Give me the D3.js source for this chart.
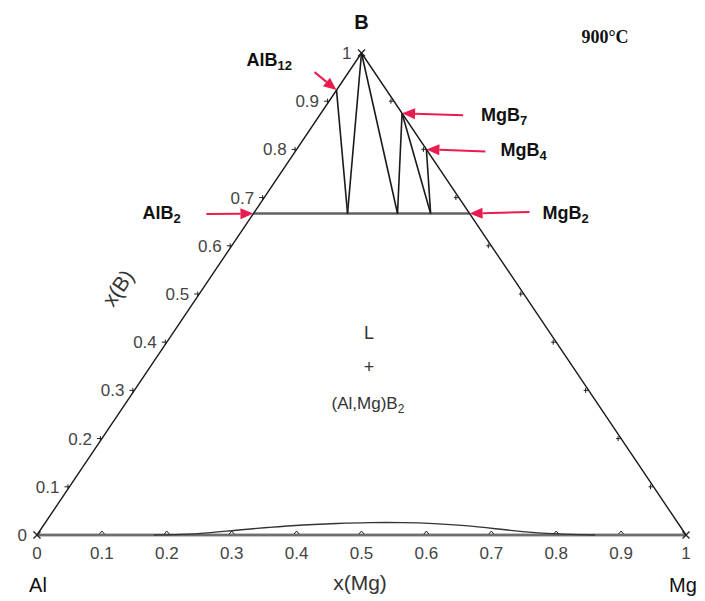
<!DOCTYPE html>
<html>
<head>
<meta charset="utf-8">
<script src="https://cdn.jsdelivr.net/npm/d3@7"></script>
<style>
  body { margin: 0; background: #fff; }
  svg { display: block; }
</style>
</head>
<body>
<svg id="chart" width="705" height="601"></svg>
<script>
// ---------------- data ----------------
const tickValues = [0, 0.1, 0.2, 0.3, 0.4, 0.5, 0.6, 0.7, 0.8, 0.9, 1];
const tickLabels = ["0", "0.1", "0.2", "0.3", "0.4", "0.5", "0.6", "0.7", "0.8", "0.9", "1"];

// compounds: composition (x(Mg), x(B))
const compoundNames = ["AlB12", "MgB7", "MgB4", "AlB2", "MgB2"];
const compoundMain = ["AlB", "MgB", "MgB", "AlB", "MgB"];
const compoundSub = ["12", "7", "4", "2", "2"];
const compoundXMg = [0, 0.125, 0.2, 0, 0.333];
const compoundXB = [0.923, 0.875, 0.8, 0.667, 0.667];

// ends of the tie lines on the (Al,Mg)B2 solid solution line (x(B) = 0.667)
const ssXMg = [0.145, 0.222, 0.273];
const ssXB = [0.667, 0.667, 0.667];

// tie lines: [from, to]  ("B" = pure boron corner, "P1".."P3" = ss points)
const tieLines = [["AlB12", "P1"], ["B", "P1"], ["B", "P2"], ["MgB7", "P2"], ["MgB7", "P3"], ["MgB4", "P3"]];

// liquid curve near the Al-Mg edge
const curveXMg = [0.18, 0.22, 0.26, 0.30, 0.35, 0.40, 0.45, 0.50, 0.55, 0.60, 0.65, 0.70, 0.75, 0.80, 0.86];
const curveXB  = [0.0, 0.001, 0.004, 0.010, 0.016, 0.021, 0.024, 0.026, 0.026, 0.024, 0.020, 0.013, 0.006, 0.002, 0.0];

// ---------------- layout ----------------
const svg = d3.select("#chart");
const xS = d3.scaleLinear().domain([0, 1]).range([37, 686]);
const yS = d3.scaleLinear().domain([0, 1]).range([535, 53]);
const proj = (m, b) => [xS(m + b / 2), yS(b)];

const FONT = "'Liberation Sans', Arial, sans-serif";
const RED = "#ea1c4f";

const pts = {};
compoundNames.forEach((n, i) => pts[n] = proj(compoundXMg[i], compoundXB[i]));
ssXMg.forEach((m, i) => pts["P" + (i + 1)] = proj(m, ssXB[i]));
pts["B"] = proj(0, 1);
pts["Al"] = proj(0, 0);
pts["Mg"] = proj(1, 0);

const line = d3.line();

// baseline (Al-Mg) and the (Al,Mg)B2 line: grey, thicker
svg.append("path").attr("d", line([pts.Al, pts.Mg]))
  .attr("stroke", "#8a8a8a").attr("stroke-width", 3).attr("fill", "none");
svg.append("path").attr("d", line([pts.Al, pts.Mg]))
  .attr("stroke", "#444").attr("stroke-width", 0.8).attr("fill", "none");
svg.append("path").attr("d", line([pts.AlB2, pts.MgB2]))
  .attr("stroke", "#8a8a8a").attr("stroke-width", 3).attr("fill", "none");
svg.append("path").attr("d", line([pts.AlB2, pts.MgB2]))
  .attr("stroke", "#555").attr("stroke-width", 0.8).attr("fill", "none");

// liquid curve
const curvePts = curveXMg.map((m, i) => proj(m, curveXB[i]));
svg.append("path").attr("d", d3.line().curve(d3.curveBasis)(curvePts))
  .attr("stroke", "#333").attr("stroke-width", 1.4).attr("fill", "none");

// triangle sides
svg.append("path").attr("d", line([pts.Al, pts.B, pts.Mg]))
  .attr("stroke", "#1a1a1a").attr("stroke-width", 1.4).attr("fill", "none")
  .attr("stroke-linejoin", "round");

// tie lines
svg.selectAll("path.tie").data(tieLines).join("path").attr("class", "tie")
  .attr("d", d => line([pts[d[0]], pts[d[1]]]))
  .attr("stroke", "#1a1a1a").attr("stroke-width", 1.6).attr("fill", "none");

// ---------------- ticks ----------------
const tg = svg.append("g").attr("stroke", "#222").attr("stroke-width", 1).attr("fill", "none");
// bottom carets
tickValues.forEach(t => {
  const [x, y] = proj(t, 0);
  if (t === 0 || t === 1) return;
  tg.append("path").attr("d", `M${x - 2.5},${y - 1}L${x},${y - 4}L${x + 2.5},${y - 1}`);
});
// left edge ticks (x(B))
tickValues.forEach(t => {
  const [x, y] = proj(0, t);
  if (t === 0 || t === 1) return;
  tg.append("path").attr("d", `M${x - 5},${y}L${x},${y}M${x - 1.5},${y - 2.5}L${x - 1.5},${y + 2.5}`);
});
// right edge ticks
tickValues.forEach(t => {
  const [x, y] = proj(1 - t, t);
  if (t === 0 || t === 1) return;
  tg.append("path").attr("d", `M${x},${y}L${x - 5},${y}M${x - 3},${y - 2.5}L${x - 3},${y + 2.5}`);
});
// corner crosses
[pts.Al, pts.Mg, pts.B].forEach(([x, y]) => {
  tg.append("path").attr("d", `M${x - 3.5},${y - 3.5}L${x + 3.5},${y + 3.5}M${x - 3.5},${y + 3.5}L${x + 3.5},${y - 3.5}`)
    .attr("stroke-width", 1.4);
});

// bottom tick labels
svg.append("g").selectAll("text").data(tickValues).join("text")
  .attr("x", d => proj(d, 0)[0]).attr("y", 559)
  .attr("text-anchor", "middle")
  .attr("font-family", FONT).attr("font-size", 17).attr("fill", "#444")
  .text((d, i) => tickLabels[i]);

// left tick labels
svg.append("g").selectAll("text").data(tickValues).join("text")
  .attr("x", d => proj(0, d)[0] - 10).attr("y", d => proj(0, d)[1] + 6)
  .attr("text-anchor", "end")
  .attr("font-family", FONT).attr("font-size", 17).attr("fill", "#444")
  .text((d, i) => tickLabels[i]);

// ---------------- axis / corner titles ----------------
svg.append("text").attr("x", 361.5).attr("y", 29).attr("text-anchor", "middle")
  .attr("font-family", FONT).attr("font-size", 20).attr("font-weight", "bold").attr("fill", "#111").text("B");
svg.append("text").attr("x", 38).attr("y", 592).attr("text-anchor", "middle")
  .attr("font-family", FONT).attr("font-size", 20).attr("fill", "#111").text("Al");
svg.append("text").attr("x", 683).attr("y", 592).attr("text-anchor", "middle")
  .attr("font-family", FONT).attr("font-size", 20).attr("fill", "#111").text("Mg");
svg.append("text").attr("x", 360).attr("y", 590).attr("text-anchor", "middle")
  .attr("font-family", FONT).attr("font-size", 21).attr("fill", "#333").text("x(Mg)");
svg.append("text").attr("transform", "translate(118,288) rotate(-56)").attr("text-anchor", "middle")
  .attr("dy", "0.35em")
  .attr("font-family", FONT).attr("font-size", 21).attr("fill", "#333").text("x(B)");

svg.append("text").attr("x", 605).attr("y", 43).attr("text-anchor", "middle")
  .attr("font-family", "'Liberation Serif', 'Times New Roman', serif").attr("font-size", 18)
  .attr("font-weight", "bold").attr("fill", "#111").text("900°C");

// region label
const rg = svg.append("g").attr("font-family", FONT).attr("fill", "#333").attr("text-anchor", "middle");
rg.append("text").attr("x", 369).attr("y", 339).attr("font-size", 18).text("L");
rg.append("text").attr("x", 369).attr("y", 373).attr("font-size", 18).text("+");
const t3 = rg.append("text").attr("x", 368).attr("y", 409).attr("font-size", 17);
t3.append("tspan").text("(Al,Mg)B");
t3.append("tspan").attr("font-size", 12).attr("dy", 4).text("2");

// ---------------- compound labels & arrows ----------------
// label anchor offsets (dx, dy from compound point) and arrow tail offsets
const labelOffsets = { AlB12: [-90, -24], MgB7: [79, 8], MgB4: [74, 7], AlB2: [-111, 5.5], MgB2: [73, 5.5] };
const arrowTails = { AlB12: [-22, -18], MgB7: [61, 2], MgB4: [59, 2], AlB2: [-47, 0.5], MgB2: [60, -1.5] };
const labelG = svg.append("g").attr("font-family", FONT).attr("font-weight", "bold").attr("fill", "#111");
compoundNames.forEach((n, i) => {
  const [x, y] = pts[n];
  const t = labelG.append("text").attr("x", x + labelOffsets[n][0]).attr("y", y + labelOffsets[n][1])
    .attr("font-size", 18);
  t.append("tspan").text(compoundMain[i]);
  t.append("tspan").attr("font-size", 13).attr("dy", 4).text(compoundSub[i]);

  // arrow
  const tx = x + arrowTails[n][0], ty = y + arrowTails[n][1];
  const ang = Math.atan2(y - ty, x - tx);
  const hl = 13, hw = 5.5;
  const bx = x - hl * Math.cos(ang), by = y - hl * Math.sin(ang);
  svg.append("path").attr("d", line([[tx, ty], [bx, by]]))
    .attr("stroke", RED).attr("stroke-width", 2).attr("fill", "none");
  const px = -Math.sin(ang), py = Math.cos(ang);
  svg.append("path")
    .attr("d", line([[x, y], [bx + px * hw, by + py * hw], [bx - px * hw, by - py * hw]]) + "Z")
    .attr("fill", RED);
});
</script>
</body>
</html>
